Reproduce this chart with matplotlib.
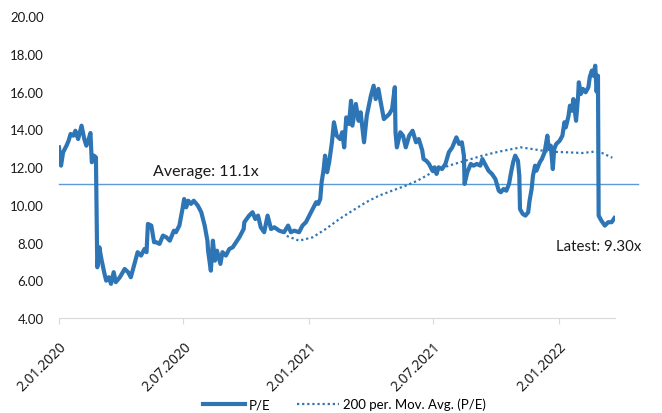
import matplotlib.pyplot as plt
import pandas as pd

plt.rcParams['font.family'] = ['Lato', 'DejaVu Sans']

# Daily P/E readings
pe_dates = [
    "2020-01-02", "2020-01-05", "2020-01-08", "2020-01-13", "2020-01-16", "2020-01-19",
    "2020-01-23", "2020-01-26", "2020-01-30", "2020-02-04", "2020-02-08", "2020-02-11",
    "2020-02-13", "2020-02-17", "2020-02-19", "2020-02-22", "2020-02-25", "2020-02-27",
    "2020-03-01", "2020-03-04", "2020-03-08", "2020-03-11", "2020-03-15", "2020-03-18",
    "2020-03-22", "2020-03-25", "2020-03-31", "2020-04-07", "2020-04-12", "2020-04-16",
    "2020-04-22", "2020-04-26", "2020-05-01", "2020-05-06", "2020-05-09", "2020-05-11",
    "2020-05-16", "2020-05-20", "2020-05-23", "2020-05-28", "2020-06-02", "2020-06-07",
    "2020-06-12", "2020-06-18", "2020-06-21", "2020-06-26", "2020-07-01", "2020-07-03",
    "2020-07-06", "2020-07-09", "2020-07-13", "2020-07-17", "2020-07-23", "2020-07-28",
    "2020-08-02", "2020-08-06", "2020-08-07", "2020-08-11", "2020-08-14", "2020-08-17",
    "2020-08-20", "2020-08-25", "2020-08-28", "2020-09-02", "2020-09-07", "2020-09-12",
    "2020-09-17", "2020-09-22", "2020-09-28", "2020-09-29", "2020-10-06", "2020-10-11",
    "2020-10-15", "2020-10-19", "2020-10-23", "2020-10-28", "2020-11-02", "2020-11-07",
    "2020-11-12", "2020-11-19", "2020-11-26", "2020-12-02", "2020-12-06", "2020-12-11",
    "2020-12-18", "2020-12-23", "2020-12-28", "2021-01-02", "2021-01-07", "2021-01-12",
    "2021-01-15", "2021-01-18", "2021-01-20", "2021-01-23", "2021-01-25", "2021-01-28",
    "2021-01-31", "2021-02-04", "2021-02-07", "2021-02-11", "2021-02-16", "2021-02-19",
    "2021-02-22", "2021-02-25", "2021-03-01", "2021-03-04", "2021-03-06", "2021-03-11",
    "2021-03-15", "2021-03-18", "2021-03-23", "2021-03-27", "2021-03-31", "2021-04-02",
    "2021-04-06", "2021-04-09", "2021-04-13", "2021-04-16", "2021-04-21", "2021-04-29",
    "2021-05-03", "2021-05-07", "2021-05-08", "2021-05-10", "2021-05-15", "2021-05-19",
    "2021-05-23", "2021-05-28", "2021-06-02", "2021-06-07", "2021-06-11", "2021-06-16",
    "2021-06-18", "2021-06-22", "2021-06-26", "2021-07-01", "2021-07-04", "2021-07-07",
    "2021-07-10", "2021-07-15", "2021-07-20", "2021-07-25", "2021-07-30", "2021-08-02",
    "2021-08-05", "2021-08-09", "2021-08-13", "2021-08-16", "2021-08-17", "2021-08-21",
    "2021-08-26", "2021-08-30", "2021-09-04", "2021-09-09", "2021-09-12", "2021-09-17",
    "2021-09-21", "2021-09-26", "2021-10-01", "2021-10-06", "2021-10-09", "2021-10-13",
    "2021-10-17", "2021-10-21", "2021-10-24", "2021-10-27", "2021-10-30", "2021-11-03",
    "2021-11-05", "2021-11-06", "2021-11-10", "2021-11-14", "2021-11-18", "2021-11-20",
    "2021-11-23", "2021-11-25", "2021-11-28", "2021-11-30", "2021-12-05", "2021-12-08",
    "2021-12-12", "2021-12-16", "2021-12-18", "2021-12-21", "2021-12-24", "2021-12-26",
    "2021-12-29", "2022-01-03", "2022-01-07", "2022-01-10", "2022-01-12", "2022-01-16",
    "2022-01-18", "2022-01-21", "2022-01-23", "2022-01-27", "2022-01-30", "2022-01-31",
    "2022-02-03", "2022-02-06", "2022-02-10", "2022-02-14", "2022-02-16", "2022-02-19",
    "2022-02-21", "2022-02-24", "2022-02-26", "2022-02-28", "2022-03-01", "2022-03-05",
    "2022-03-10", "2022-03-15", "2022-03-20", "2022-03-24",
]
pe_values = [
    13.05, 12.08, 12.79, 13.14, 13.40, 13.76,
    13.67, 13.93, 13.49, 14.20, 13.49, 13.14,
    13.32, 13.81, 12.26, 12.61, 12.52, 6.69,
    7.75, 7.13, 6.43, 5.98, 6.16, 5.81,
    6.43, 5.90, 6.16, 6.60, 6.43, 6.16,
    6.96, 7.49, 7.31, 7.66, 7.49, 8.99,
    8.90, 8.02, 8.02, 7.93, 8.37, 8.28,
    8.10, 8.63, 8.55, 8.90, 9.87, 10.31,
    9.87, 10.22, 10.05, 10.22, 9.96, 9.61,
    8.90, 8.10, 7.57, 6.51, 8.10, 7.04,
    7.57, 6.87, 7.49, 7.31, 7.66, 7.75,
    8.02, 8.30, 8.72, 9.08, 9.43, 9.61,
    9.25, 9.43, 8.81, 8.55, 9.43, 8.72,
    8.81, 8.63, 8.55, 8.90, 8.55, 8.63,
    8.55, 8.90, 9.08, 9.43, 9.78, 10.14,
    10.05, 10.31, 11.20, 11.90, 12.61, 11.73,
    12.26, 13.30, 14.38, 13.67, 13.49, 13.85,
    13.05, 14.64, 14.29, 15.52, 14.20, 15.35,
    14.46, 14.91, 13.32, 14.73, 15.44, 15.79,
    16.32, 15.61, 16.15, 15.52, 14.55, 14.82,
    15.08, 16.24, 13.85, 13.05, 13.85, 13.67,
    13.05, 13.67, 13.93, 13.32, 13.49, 12.90,
    12.43, 12.34, 12.17, 11.81, 11.99, 11.64,
    11.99, 11.90, 12.17, 12.79, 13.05, 13.32,
    13.58, 13.23, 13.32, 12.61, 11.11, 11.73,
    12.17, 12.08, 12.17, 12.08, 12.43, 12.08,
    11.81, 11.64, 11.37, 10.75, 10.67, 10.84,
    10.75, 11.11, 11.73, 12.26, 12.61, 12.34,
    11.55, 9.78, 9.52, 9.43, 9.61, 10.22,
    10.84, 11.55, 12.08, 11.81, 12.26, 12.43,
    12.79, 13.67, 12.96, 13.14, 11.90, 12.96,
    13.23, 13.40, 13.67, 14.38, 14.11, 14.73,
    15.26, 14.99, 15.61, 14.46, 15.79, 16.50,
    15.88, 16.15, 15.97, 16.24, 16.77, 17.12,
    16.85, 17.38, 16.00, 16.85, 9.43, 9.16,
    8.90, 9.08, 9.08, 9.30,
]

# 200-period moving average of P/E
ma_dates = [
    "2020-11-30", "2020-12-18", "2021-01-07", "2021-01-26", "2021-02-15", "2021-03-06",
    "2021-03-26", "2021-04-14", "2021-05-03", "2021-05-23", "2021-06-09", "2021-07-01",
    "2021-07-25", "2021-08-18", "2021-09-12", "2021-10-06", "2021-11-07", "2021-11-24",
    "2021-12-18", "2022-01-12", "2022-02-05", "2022-02-22", "2022-03-06", "2022-03-21",
]
ma_values = [
    8.35, 8.10, 8.28, 8.72, 9.25, 9.69,
    10.14, 10.49, 10.75, 11.02, 11.28, 11.73,
    12.08, 12.34, 12.61, 12.82, 13.05, 12.96,
    12.82, 12.79, 12.75, 12.82, 12.75, 12.50,
]

average_pe = 11.1
latest_pe = 9.30
avg_line_end = "2022-04-28"

tick_dates = ["2020-01-02", "2020-07-02", "2021-01-02", "2021-07-02", "2022-01-02"]
tick_labels = ["2.01.2020", "2.07.2020", "2.01.2021", "2.07.2021", "2.01.2022"]
y_ticks = [4, 6, 8, 10, 12, 14, 16, 18, 20]

pe_x = pd.to_datetime(pe_dates)
ma_x = pd.to_datetime(ma_dates)

fig = plt.figure(figsize=(6.62, 4.14), dpi=100)
ax = fig.add_axes([0.0891, 0.2295, 0.840, 0.7287])

blue = "#2E75B6"
ax.plot(pe_x, pe_values, color=blue, lw=3.0, solid_joinstyle="round", label="P/E", zorder=3)
ax.plot(ma_x, ma_values, color=blue, lw=1.6, linestyle=(0, (1, 1.3)),
        label="200 per. Mov. Avg. (P/E)", zorder=2)
ax.plot([pe_x[0], pd.Timestamp(avg_line_end)], [average_pe, average_pe],
        color="#5B9BD5", lw=1.0, clip_on=False, zorder=1)

ax.text(pd.Timestamp("2020-05-18"), average_pe + 0.3, f"Average: {average_pe:.1f}x",
        fontsize=11.5, ha="left", va="bottom", color="#1a1a1a")
ax.text(pd.Timestamp("2021-12-29"), latest_pe - 1.5, f"Latest: {latest_pe:.2f}x",
        fontsize=10.8, ha="left", va="center", color="#1a1a1a")

ax.set_xlim(pd.Timestamp("2020-01-02"), pd.Timestamp("2022-03-25"))
ax.set_ylim(4, 20)
ax.set_yticks(y_ticks)
ax.yaxis.set_major_formatter(plt.FuncFormatter(lambda v, _: f"{v:.2f}"))
ax.set_xticks(pd.to_datetime(tick_dates))
ax.set_xticklabels(tick_labels, rotation=45, ha="right", rotation_mode="anchor")

for side in ["top", "right", "left"]:
    ax.spines[side].set_visible(False)
ax.spines["bottom"].set_color("#d9d9d9")
ax.tick_params(axis="y", length=0, pad=11, labelsize=9.5, labelcolor="#1a1a1a")
ax.tick_params(axis="x", length=4, color="#d9d9d9", pad=11, labelsize=10, labelcolor="#1a1a1a")
# Lato squeezes the first dot of the date labels, so use Noto Sans there
for lbl in ax.get_xticklabels():
    lbl.set_fontfamily(["Noto Sans", "DejaVu Sans"])

fig.legend(loc="center", bbox_to_anchor=(0.52, 0.022), ncol=2, frameon=False,
           fontsize=9.5, handlelength=3.2, columnspacing=2.0, handletextpad=0.3)

fig.savefig("out.png", dpi=100)
